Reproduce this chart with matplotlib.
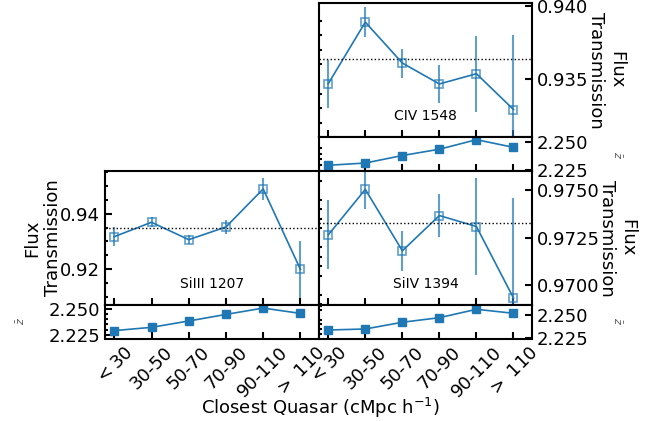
import matplotlib
matplotlib.use('Agg')
import matplotlib.pyplot as plt
import numpy as np
from matplotlib.ticker import MultipleLocator, FormatStrFormatter

# bins of closest-quasar distance
bins = ['$<$30', '30-50', '50-70', '70-90', '90-110', '$>$ 110']
xpos = np.arange(len(bins))

# CIV 1548
civ_flux = [0.93468, 0.93889, 0.93609, 0.93466, 0.93536, 0.93291]
civ_err = [0.00165, 0.00105, 0.00099, 0.00133, 0.0026, 0.0051]
civ_mean = 0.93639
civ_z = [2.2296, 2.2316, 2.2383, 2.2439, 2.2524, 2.2456]

# SiIII 1207
si3_flux = [0.93174, 0.93689, 0.93066, 0.93521, 0.94886, 0.9200]
si3_err = [0.0033, 0.0018, 0.0017, 0.0024, 0.0040, 0.0102]
si3_mean = 0.93497
si3_z = [2.2290, 2.2322, 2.2384, 2.2448, 2.2510, 2.2458]

# SiIV 1394
si4_flux = [0.97265, 0.97505, 0.97181, 0.97367, 0.97309, 0.96932]
si4_err = [0.00182, 0.00102, 0.00107, 0.00114, 0.00256, 0.0053]
si4_mean = 0.97328
si4_z = [2.2339, 2.2350, 2.2422, 2.2471, 2.2561, 2.2518]

plt.rcParams['font.family'] = 'DejaVu Sans'
plt.rcParams['axes.linewidth'] = 1.5

W, H = 662, 421
fig = plt.figure(figsize=(W / 100, H / 100), dpi=100)

def rect(x0, x1, y0, y1):
    # pixel box -> figure fraction
    return [x0 / W, 1 - y1 / H, (x1 - x0) / W, (y1 - y0) / H]

TS = 13

def style(ax, side):
    ax.tick_params(direction='in', which='both', width=1.5)
    ax.tick_params(which='major', length=5)
    ax.tick_params(which='minor', length=2.5)
    ax.tick_params(axis='y', labelsize=TS, left=(side == 'left'), right=(side == 'right'),
                   labelleft=(side == 'left'), labelright=(side == 'right'))
    ax.tick_params(axis='x', labelsize=TS, top=False, bottom=True)
    ax.set_xlim(-0.25, 5.5)
    ax.set_xticks(xpos)

def main_panel(box, flux, err, mean, label, side, ylim, major, fmt):
    ax = fig.add_axes(box)
    ax.errorbar(xpos, flux, yerr=err, fmt='s', mfc='none', color='C0', alpha=0.7,
                ms=6, mew=1.2, elinewidth=1.5, capsize=0)
    ax.plot(xpos, flux, '-', color='C0', lw=1.2)
    ax.axhline(mean, color='k', ls=':', lw=1)
    ax.text(0.5, 0.157, label, transform=ax.transAxes, ha='center', va='center', fontsize=10)
    style(ax, side)
    ax.set_ylim(*ylim)
    ax.yaxis.set_major_locator(MultipleLocator(major))
    ax.yaxis.set_minor_locator(MultipleLocator(major / (4 if major == 0.02 else 5)))
    ax.yaxis.set_major_formatter(FormatStrFormatter(fmt))
    ax.set_xticklabels([])
    return ax

def z_panel(box, z, side, ylim, xlabels):
    ax = fig.add_axes(box)
    ax.plot(xpos, z, 's-', color='C0', ms=6, lw=1.2)
    style(ax, side)
    ax.set_ylim(*ylim)
    ax.yaxis.set_major_locator(MultipleLocator(0.025))
    ax.yaxis.set_minor_locator(MultipleLocator(0.005))
    ax.yaxis.set_major_formatter(FormatStrFormatter('%.3f'))
    if xlabels:
        ax.set_xticklabels(bins, rotation=45)
    else:
        ax.set_xticklabels([])
    return ax

# top right: CIV
main_panel(rect(319, 532, 3, 137), civ_flux, civ_err, civ_mean, 'CIV 1548', 'right',
           (0.93103, 0.9402), 0.005, '%.3f')
z_panel(rect(319, 532, 137, 171), civ_z, 'right', (2.2245, 2.2548), False)

# bottom left: SiIII
main_panel(rect(105, 319, 171, 305), si3_flux, si3_err, si3_mean, 'SiIII 1207', 'left',
           (0.9072, 0.9553), 0.02, '%.2f')
z_panel(rect(105, 319, 305, 338.5), si3_z, 'left', (2.2213, 2.2540), True)

# bottom right: SiIV
main_panel(rect(319, 532, 171, 305), si4_flux, si4_err, si4_mean, 'SiIV 1394', 'right',
           (0.96895, 0.97602), 0.0025, '%.4f')
z_panel(rect(319, 532, 305, 338.5), si4_z, 'right', (2.2248, 2.2607), True)

# axis labels
fig.text(43 / W, 1 - 238 / H, 'Flux\nTransmission', rotation=90, ha='center', va='center',
         fontsize=TS, multialignment='center')
fig.text(606 / W, 1 - 70 / H, 'Flux\nTransmission', rotation=270, ha='center', va='center',
         fontsize=TS, multialignment='center')
fig.text(617 / W, 1 - 238 / H, 'Flux\nTransmission', rotation=270, ha='center', va='center',
         fontsize=TS, multialignment='center')
zc = '0.35'
fig.text(21 / W, 1 - 321 / H, r'$\bar{z}$', rotation=90, ha='center', va='center', fontsize=8, color=zc)
fig.text(617 / W, 1 - 155 / H, r'$\bar{z}$', rotation=270, ha='center', va='center', fontsize=8, color=zc)
fig.text(617 / W, 1 - 321 / H, r'$\bar{z}$', rotation=270, ha='center', va='center', fontsize=8, color=zc)
fig.text(320 / W, 1 - 408 / H, 'Closest Quasar (cMpc h$^{-1}$)', ha='center', va='center',
         fontsize=TS)

fig.savefig('out.png', dpi=100)
